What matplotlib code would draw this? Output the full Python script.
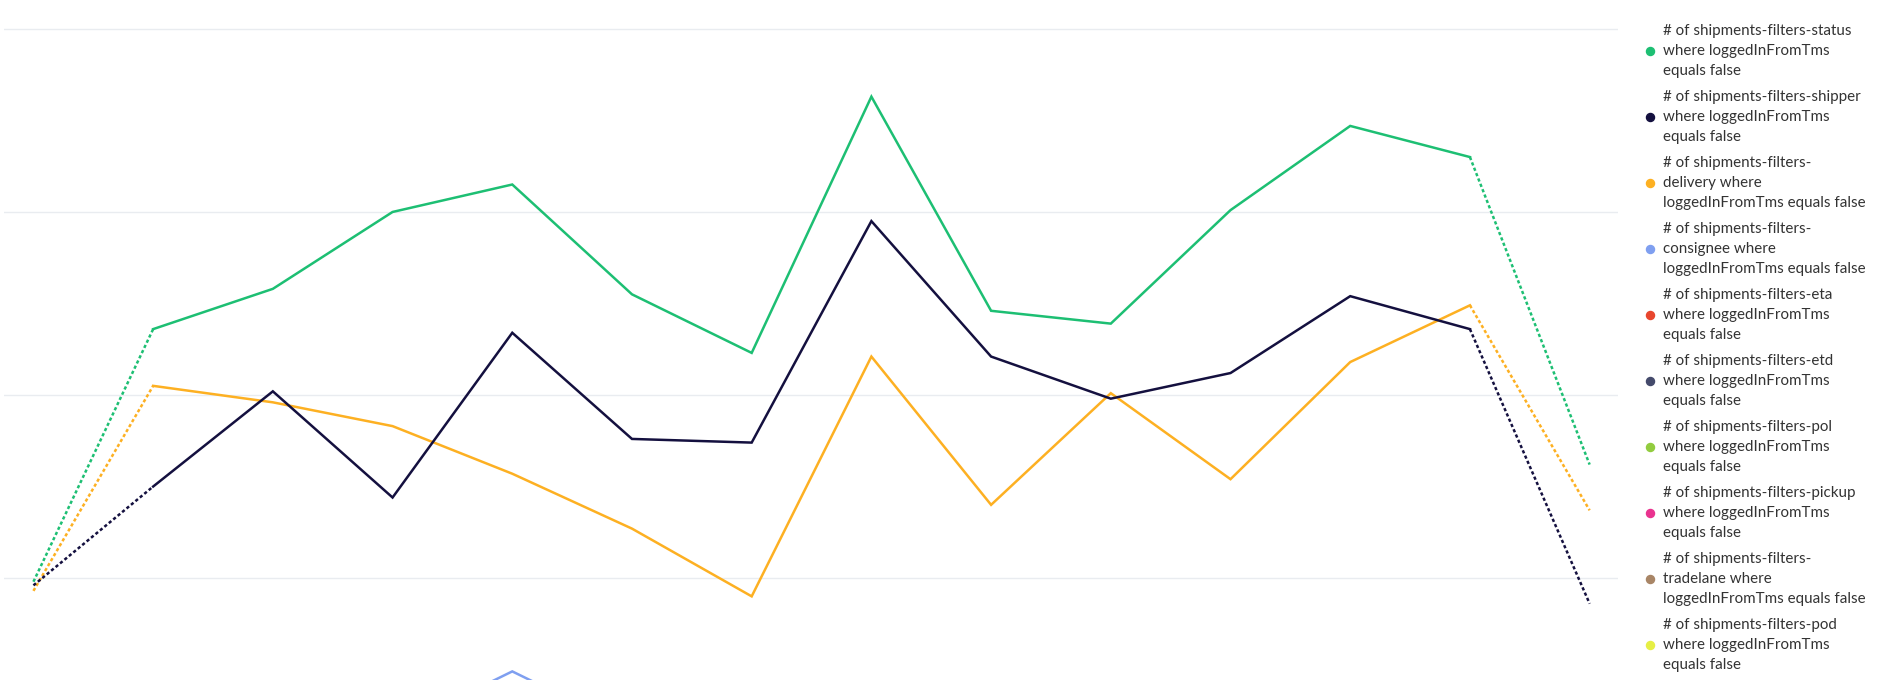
import numpy as np
from matplotlib import pyplot as plt

plt.rcParams['font.family'] = ['Lato', 'DejaVu Sans']

# 14 periods, values (arbitrary count scale)
periods = np.arange(14)
status = [9.8, 23.6, 25.8, 30.0, 31.5, 25.5, 22.3, 36.3, 24.6, 23.9, 30.1, 34.7, 33.0, 16.2]
shipper = [9.6, 15.0, 20.2, 14.4, 23.4, 17.6, 17.4, 29.5, 22.1, 19.8, 21.2, 25.4, 23.6, 8.6]
delivery = [9.3, 20.5, 19.6, 18.3, 15.7, 12.7, 9.0, 22.1, 14.0, 20.1, 15.4, 21.8, 24.9, 13.7]
consignee = [0, 0, 0, 1.7, 4.9, 1.7, 0, 0, 0, 0, 0, 0, 0, 0]
eta = [0] * 14
etd = [0] * 14
pol = [0] * 14
pickup = [0] * 14
tradelane = [0] * 14
pod = [0] * 14

labels = [
    "# of shipments-filters-status\nwhere loggedInFromTms\nequals false",
    "# of shipments-filters-shipper\nwhere loggedInFromTms\nequals false",
    "# of shipments-filters-\ndelivery where\nloggedInFromTms equals false",
    "# of shipments-filters-\nconsignee where\nloggedInFromTms equals false",
    "# of shipments-filters-eta\nwhere loggedInFromTms\nequals false",
    "# of shipments-filters-etd\nwhere loggedInFromTms\nequals false",
    "# of shipments-filters-pol\nwhere loggedInFromTms\nequals false",
    "# of shipments-filters-pickup\nwhere loggedInFromTms\nequals false",
    "# of shipments-filters-\ntradelane where\nloggedInFromTms equals false",
    "# of shipments-filters-pod\nwhere loggedInFromTms\nequals false",
]
colors = ['#1dbf73', '#14103f', '#fdb022', '#7f9ff0', '#e8462e',
          '#444a6b', '#92cc3f', '#e9338f', '#a88566', '#e6ef45']
series = [status, shipper, delivery, consignee, eta, etd, pol, pickup, tradelane, pod]

fig = plt.figure(figsize=(18.86, 6.8), dpi=100)
ax = fig.add_axes([4 / 1886, 0, 1614 / 1886, 1])

# draw from back to front so status ends on top
for vals, c in reversed(list(zip(series, colors))):
    v = np.array(vals)
    ax.plot(periods[:2], v[:2], color=c, lw=1.8, ls=(0, (1.3, 1.0)))
    ax.plot(periods[1:-1], v[1:-1], color=c, lw=1.8, solid_joinstyle='miter')
    ax.plot(periods[-2:], v[-2:], color=c, lw=1.8, ls=(0, (1.3, 1.0)))

ax.set_xlim(-0.246, 13.237)
ax.set_ylim(4.43, 41.58)
ax.set_yticks([10, 20, 30, 40])
ax.grid(axis='y', color='#e9ecf0', lw=1.0)
ax.set_axisbelow(True)
ax.tick_params(length=0, labelleft=False, labelbottom=False)
for s in ax.spines.values():
    s.set_visible(False)

# legend on the right, one 3-line entry per series
for i, (lab, c) in enumerate(zip(labels, colors)):
    yc = 1 - (51 + 66 * i) / 680
    fig.text(1663 / 1886, yc, lab, fontsize=10.9, color='#333333',
             va='center', ha='left', linespacing=1.53)
    fig.lines.append(plt.Line2D([1650 / 1886], [yc], marker='o', ms=5.8,
                                color=c, ls='', transform=fig.transFigure))

fig.savefig('out.png', dpi=100)
